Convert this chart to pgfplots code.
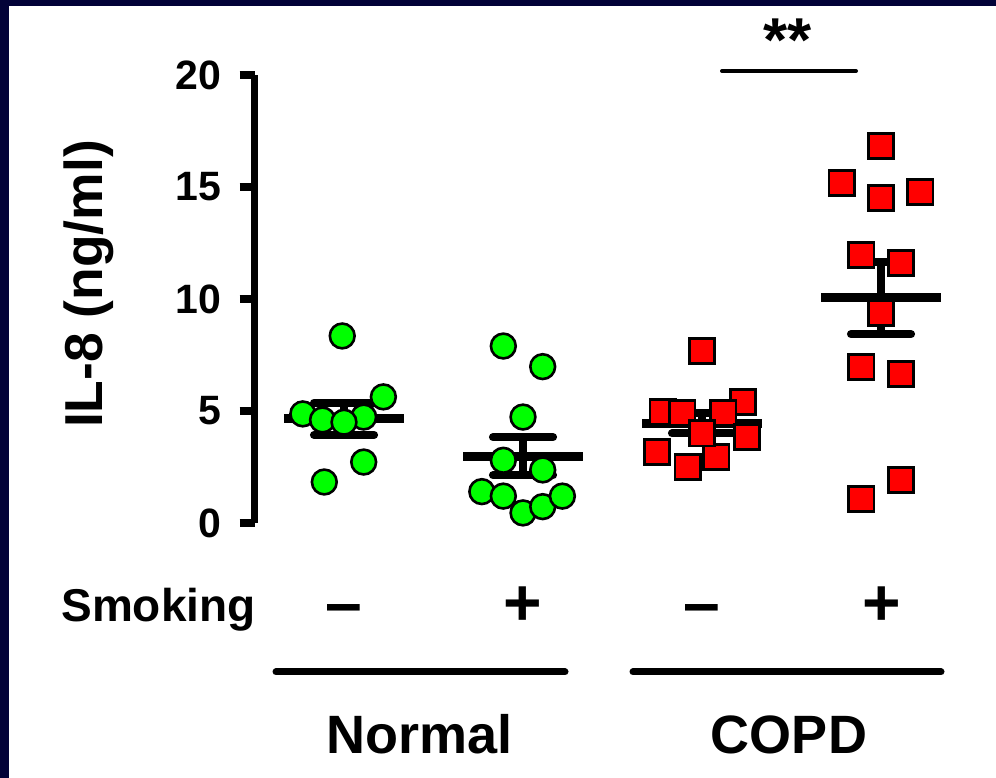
\documentclass[border=0pt]{standalone}
\usepackage{fontspec}
\setmainfont{Liberation Sans}
\usepackage{pgfplots}
\usepackage{pgfplotstable}
\pgfplotsset{compat=1.18}

\definecolor{frame}{RGB}{2,2,56}
\definecolor{dotgreen}{RGB}{0,255,0}
\definecolor{dotred}{RGB}{255,0,0}

% individual values, x = group + jitter
\pgfplotstableread{
x y
0.99 8.35
1.22 5.63
0.77 4.87
0.88 4.60
1.11 4.73
1.00 4.50
1.11 2.72
0.89 1.83
}\normalneg
\pgfplotstableread{
x y
1.89 7.90
2.11 6.98
2.00 4.73
1.89 2.80
2.11 2.37
1.77 1.40
1.89 1.20
2.00 0.45
2.11 0.73
2.22 1.20
}\normalpos
\pgfplotstableread{
x y
3.00 7.68
3.23 5.40
2.78 4.96
2.89 4.90
3.12 4.90
3.25 3.85
2.75 3.17
2.92 2.50
3.08 2.95
3.00 4.00
}\copdneg
\pgfplotstableread{
x y
4.00 16.83
3.78 15.18
4.00 14.50
4.22 14.78
3.89 11.96
4.11 11.60
4.00 9.37
3.89 6.96
4.11 6.65
4.11 1.92
3.89 1.07
}\copdpos

\begin{document}
\begin{tikzpicture}[x=0.5bp,y=0.5bp]
\fill[white] (-30,-30) rectangle (1026,808);
\fill[frame] (-30,-30) rectangle (9,808);
\fill[frame] (-30,772) rectangle (1026,808);

\begin{axis}[
  at={(127.25bp,127.5bp)}, anchor=south west,
  scale only axis, width=358bp, height=224bp,
  xmin=0.5, xmax=4.5, ymin=0, ymax=20,
  axis x line=none,
  axis y line=left,
  axis line style={-, line width=3.5bp},
  ytick={0,5,10,15,20},
  tick align=outside,
  major tick length=7.5bp,
  ytick style={line width=4bp, black},
  /pgf/number format/assume math mode=true,
  yticklabel style={font=\fontsize{20.5bp}{24bp}\selectfont\bfseries, anchor=east, inner sep=0pt, xshift=-9bp},
  clip=false,
  unbounded coords=jump,
]
\addplot[only marks, mark=*, mark size=6.2bp, mark options={fill=dotgreen, draw=black, line width=1.3bp}] table {\normalneg};
\addplot[only marks, mark=*, mark size=6.2bp, mark options={fill=dotgreen, draw=black, line width=1.3bp}] table {\normalpos};
\addplot[only marks, mark=square*, mark size=6.3bp, mark options={fill=dotred, draw=black, line width=1.4bp, rounded corners=0.8bp}] table {\copdneg};
\addplot[only marks, mark=square*, mark size=6.3bp, mark options={fill=dotred, draw=black, line width=1.4bp, rounded corners=0.8bp}] table {\copdpos};
% means
\addplot[black, line width=4.5bp] coordinates {
  (0.665,4.65) (1.335,4.65) (1,nan)
  (1.665,2.98) (2.335,2.98) (2,nan)
  (2.665,4.45) (3.335,4.45) (3,nan)
  (3.665,10.05) (4.335,10.05)
};
% SEM
\addplot[black, line width=4bp] coordinates {
  (1,3.93) (1,5.37) (1,nan)
  (2,2.13) (2,3.83) (2,nan)
  (3,4.00) (3,4.90) (3,nan)
  (4,8.43) (4,11.67)
};
\addplot[black, line width=4bp, line cap=round] coordinates {
  (0.832,5.37) (1.168,5.37) (1,nan)
  (0.832,3.93) (1.168,3.93) (1,nan)
  (1.832,3.83) (2.168,3.83) (2,nan)
  (1.832,2.13) (2.168,2.13) (2,nan)
  (2.832,4.90) (3.168,4.90) (3,nan)
  (2.832,4.00) (3.168,4.00) (3,nan)
  (3.832,11.67) (4.168,11.67) (4,nan)
  (3.832,8.43) (4.168,8.43)
};
\end{axis}

\node[rotate=90, anchor=base, font=\fontsize{26.7bp}{32bp}\selectfont\bfseries] at (102,494) {IL-8 (ng/ml)};

\draw[line width=2bp, line cap=round] (722,707) -- (856,707);
\node[anchor=base, inner sep=0pt, font=\fontsize{31bp}{36bp}\selectfont\bfseries] at (788,716) {**};

\node[anchor=base east, inner sep=0pt, font=\fontsize{23bp}{28bp}\selectfont\bfseries] at (256,156) {Smoking};
\foreach \xx/\s in {344/–, 523/+, 702/–, 882/+}
  \node[anchor=base, inner sep=0pt, font=\fontsize{33bp}{38bp}\selectfont\bfseries] at (\xx,152) {\s};

\draw[line width=3.5bp, line cap=round] (276,106) -- (565,106);
\draw[line width=3.5bp, line cap=round] (633,106) -- (941,106);
\node[anchor=base, inner sep=0pt, font=\fontsize{27bp}{32bp}\selectfont\bfseries] at (420,24) {Normal};
\node[anchor=base, inner sep=0pt, font=\fontsize{27bp}{32bp}\selectfont\bfseries] at (789,24) {COPD};

\pgfresetboundingbox
\path (0,0) rectangle (996,778);
\end{tikzpicture}
\end{document}
